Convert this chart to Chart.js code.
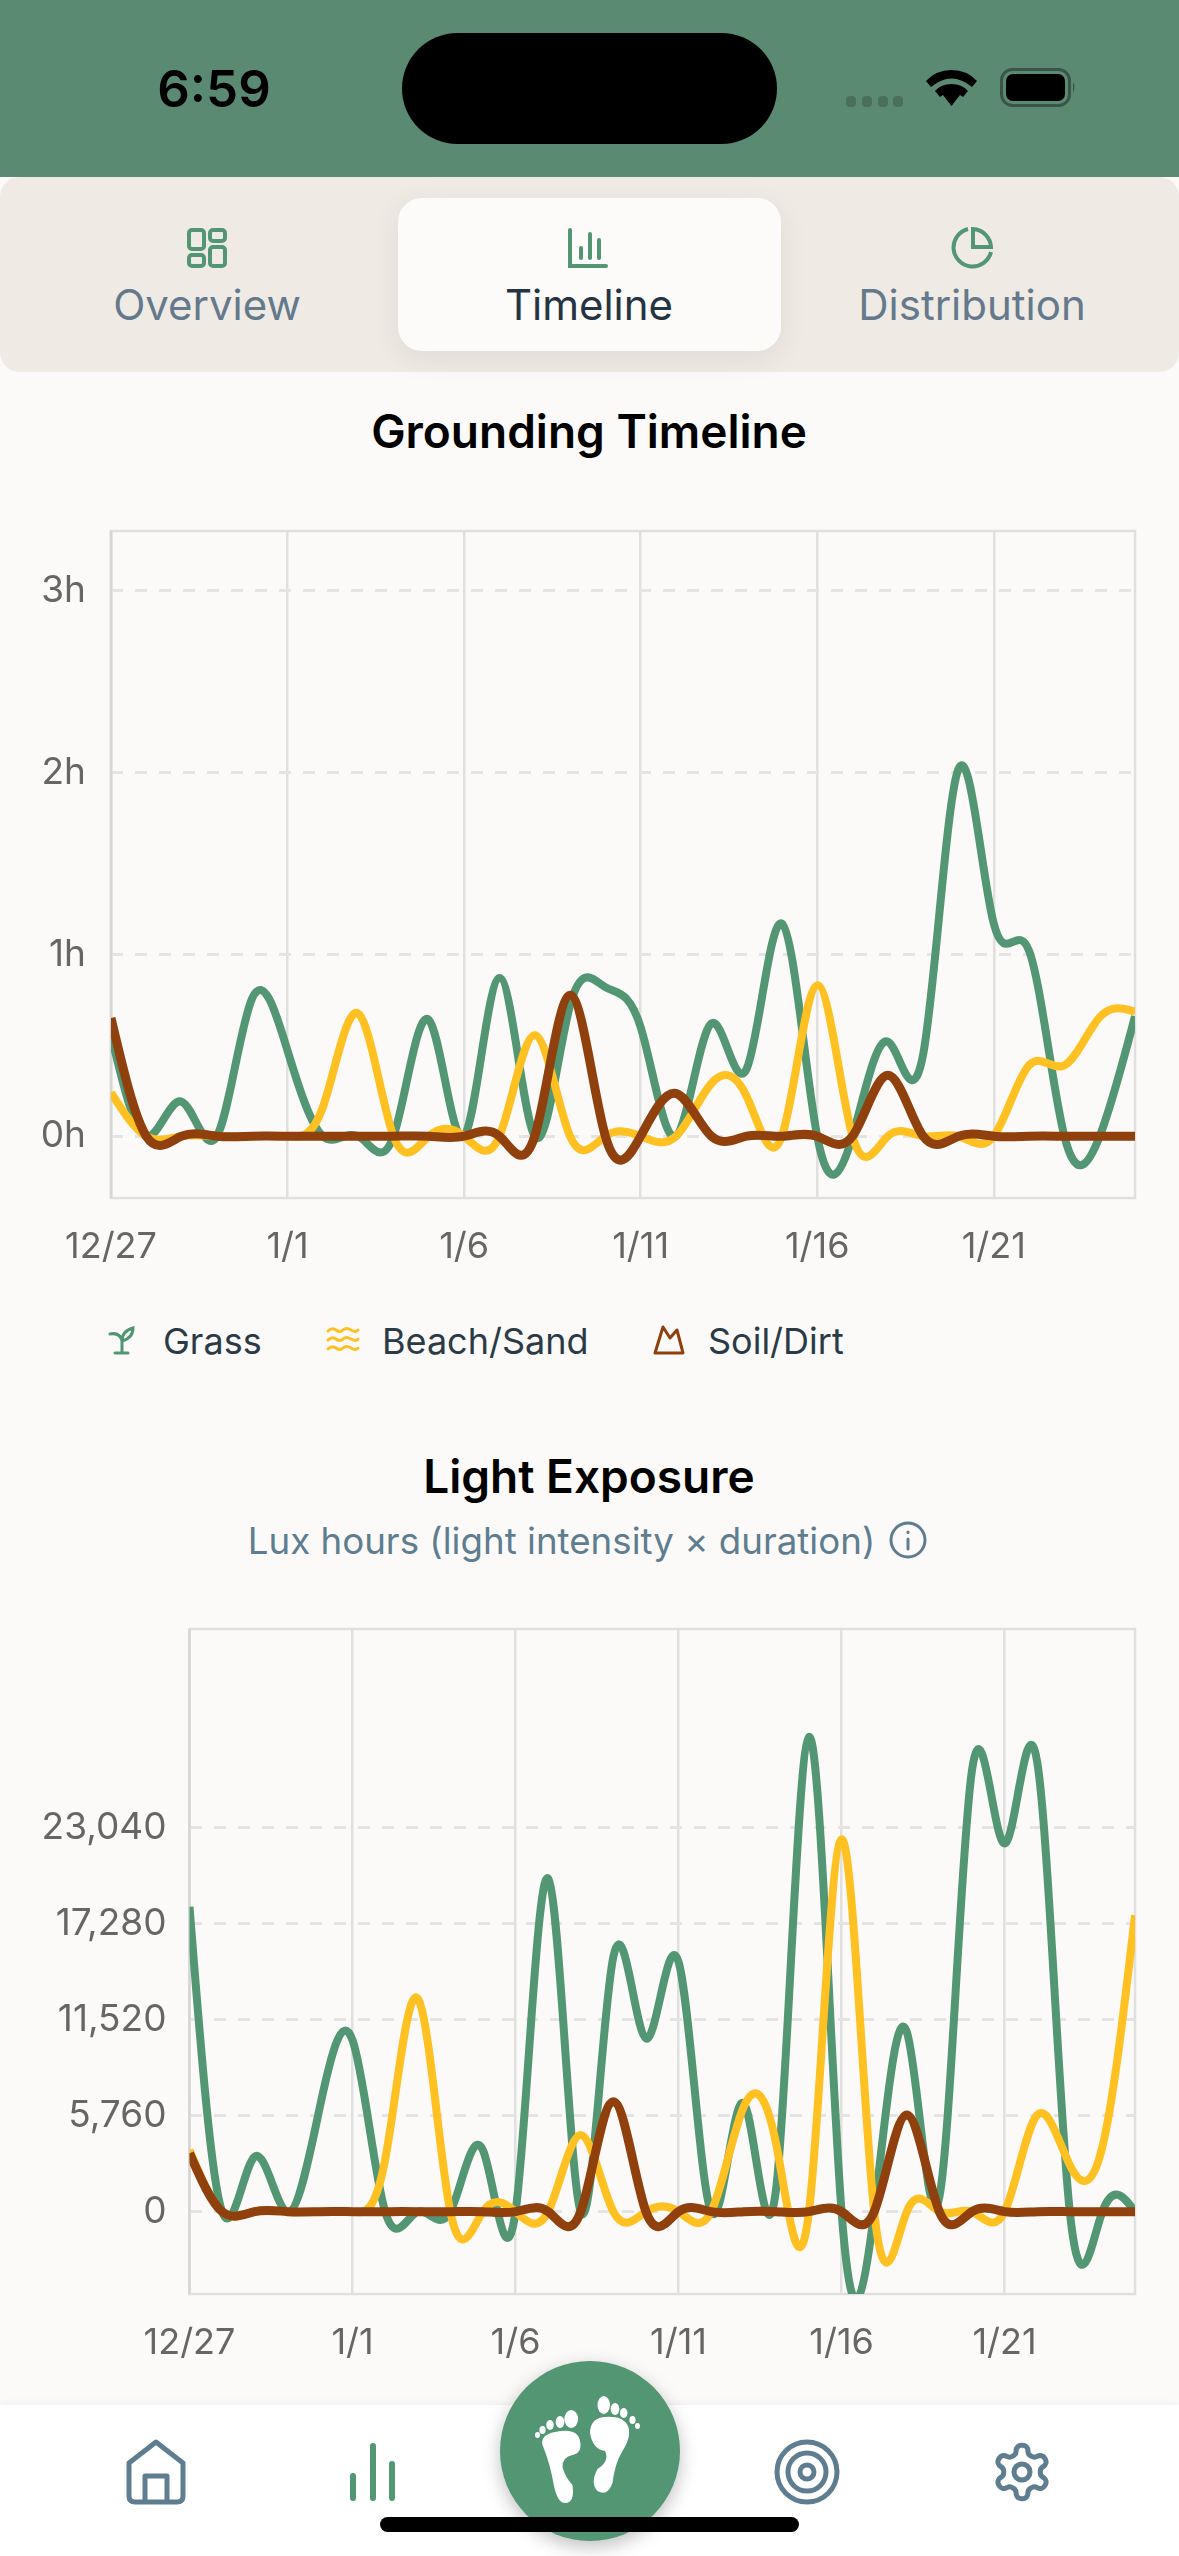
<!DOCTYPE html>
<html>
<head>
<meta charset="utf-8">
<title>Grounding Timeline</title>
<script src="https://cdn.jsdelivr.net/npm/chart.js@4/dist/chart.umd.js"></script>
<style>
  html,body{margin:0;padding:0;background:#fbfaf8;}
  body{position:relative;width:1179px;height:2556px;overflow:hidden;font-family:Inter,sans-serif;}
  .abs{position:absolute;}
  .ctr{position:absolute;transform:translate(-50%,-50%);white-space:nowrap;}
  canvas{position:absolute;left:0;}
  #statusbar{left:0;top:0;width:1179px;height:177px;background:#5b8a72;}
  #island{left:402px;top:33px;width:375px;height:111px;border-radius:56px;background:#000;}
  #tabs{left:0;top:177px;width:1179px;height:195px;background:#efebe4;border-radius:20px;}
  #tab-on{left:398px;top:198px;width:383px;height:153px;border-radius:24px;background:#fcfbf9;box-shadow:0 8px 30px rgba(0,0,0,.07);}
  .tab{font-size:42px;color:#64798c;}
  .title{font-size:46px;font-weight:600;color:#000;}
  .legend{font-size:36px;color:#2b3a47;}
  #nav{left:0;top:2405px;width:1179px;height:151px;background:#fff;box-shadow:0 -1px 8px rgba(0,0,0,.05);}
  #fab{left:500px;top:2361px;width:180px;height:180px;border-radius:50%;background:#529673;box-shadow:0 6px 18px rgba(0,0,0,.25);}
  #homebar{left:380px;top:2517px;width:419px;height:15px;border-radius:8px;background:#000;}
  svg{position:absolute;overflow:visible;}
</style>
</head>
<body>
<div class="abs" id="statusbar"></div>
<div class="abs" id="island"></div>
<div class="ctr" style="left:214px;top:88px;font-size:51px;font-weight:600;color:#000;">6:59</div>
<svg style="left:846px;top:96px" width="57" height="12"><g fill="#4a6f5b"><rect x="0" width="10" height="11" rx="4"/><rect x="16" width="10" height="11" rx="4"/><rect x="32" width="10" height="11" rx="4"/><rect x="47" width="10" height="11" rx="4"/></g></svg>
<svg style="left:926px;top:68px" width="51" height="38" viewBox="0 0 51 38"><path d="M25.5 38 L17 27 Q25.5 21 34 27Z M25.500 16 Q36 16 42 23 L37 29 Q25.500 20 14 29 L9 23 Q15 16 25.500 16Z M25.500 2 Q41 2 51 13 L46 19 Q25.500 2 5 19 L0 13 Q10 2 25.500 2Z" fill="#000"/></svg>
<svg style="left:1000px;top:68px" width="76" height="40"><rect x="1.500" y="1.500" width="68" height="36" rx="11" fill="none" stroke="#3c5447" stroke-width="3"/><rect x="6" y="6" width="59" height="27" rx="7" fill="#000"/><path d="M73 14 Q76 19 73 25Z" fill="#3c5447"/></svg>

<div class="abs" id="tabs"></div>
<div class="abs" id="tab-on"></div>
<svg style="left:187px;top:228px" width="40" height="40" fill="none" stroke="#529673" stroke-width="4"><rect x="2" y="2" width="15" height="19" rx="3"/><rect x="23" y="2" width="15" height="11" rx="3"/><rect x="23" y="19" width="15" height="19" rx="3"/><rect x="2" y="27" width="15" height="11" rx="3"/></svg>
<svg style="left:568px;top:228px" width="40" height="40" fill="none" stroke="#529673" stroke-width="4" stroke-linecap="round"><path d="M2 2V38H38M13 30V20M22 30V6M31 30V12"/></svg>
<svg style="left:950px;top:226px" width="44" height="44" fill="none" stroke="#529673" stroke-width="4"><path d="M18 3A19 19 0 1 0 41 26"/><path d="M23 3A19 19 0 0 1 41 21H23Z"/></svg>
<div class="ctr tab" style="left:207px;top:304px">Overview</div>
<div class="ctr tab" style="left:589px;top:304px;color:#243442;">Timeline</div>
<div class="ctr tab" style="left:972px;top:304px">Distribution</div>
<div class="ctr title" style="left:589px;top:431px">Grounding Timeline</div>

<canvas id="groundingChart" style="top:500px"></canvas>

<svg style="left:108px;top:1326px" width="28" height="29" fill="none" stroke="#529673" stroke-width="3" stroke-linecap="round"><path d="M14 27V14M2 8Q12 6 14 15Q14 5 25 2Q25 12 14 15M7 27H20"/></svg>
<div class="abs legend" style="left:163px;top:1319px">Grass</div>
<svg style="left:327px;top:1327px" width="32" height="26" fill="none" stroke="#ffc022" stroke-width="3" stroke-linecap="round"><path d="M1 4Q5 0 9 3T16 3T24 3T31 3M1 13Q5 9 9 12T16 12T24 12T31 12M1 22Q5 18 9 21T16 21T24 21T31 21"/></svg>
<div class="abs legend" style="left:382px;top:1319px">Beach/Sand</div>
<svg style="left:653px;top:1324px" width="32" height="31" fill="none" stroke="#8f400d" stroke-width="3" stroke-linejoin="round"><path d="M2 29L10 3L17 14L24 6L30 29Z"/></svg>
<div class="abs legend" style="left:708px;top:1319px">Soil/Dirt</div>

<div class="ctr title" style="left:589px;top:1476px">Light Exposure</div>
<div class="ctr" style="left:561.500px;top:1540px;font-size:36.700px;color:#5f7d90">Lux hours (light intensity × duration)</div>
<svg style="left:889px;top:1521px" width="38" height="38" fill="none" stroke="#5f7d90" stroke-width="3" stroke-linecap="round"><circle cx="19" cy="19" r="17"/><path d="M19 18V28M19 11V11.500"/></svg>

<canvas id="lightChart" style="top:1600px"></canvas>

<div class="abs" id="nav"></div>
<svg style="left:126px;top:2439px" width="60" height="66" fill="none" stroke="#5f7d90" stroke-width="5" stroke-linejoin="round"><path d="M3 24L30 3L57 24V57Q57 63 51 63H9Q3 63 3 57Z"/><path d="M19 63V37H41V63"/></svg>
<svg style="left:345px;top:2443px" width="56" height="58" fill="none" stroke="#529673" stroke-width="6" stroke-linecap="round"><path d="M8 55V33M28 55V3M47 55V21"/></svg>
<div class="abs" id="fab"></div>
<svg style="left:540px;top:2395px;transform:scaleX(1.25)" width="100" height="110" fill="#fff"><path d="M22 37Q40 32 42 46Q44 58 36 60Q28 62 28 72Q30 82 36 90Q38 108 30 108Q24 108 21 90Q18 68 12 50Q10 40 22 37Z"/><ellipse cx="35" cy="24" rx="5.500" ry="9"/><ellipse cx="26" cy="27" rx="3.500" ry="6"/><ellipse cx="18" cy="30" rx="3" ry="5"/><ellipse cx="12" cy="35" rx="2.500" ry="4"/><ellipse cx="8" cy="40" rx="2" ry="3"/><path d="M68 22Q50 20 50 38Q52 54 62 56Q66 66 56 74Q50 88 56 96Q64 102 68 88Q70 68 76 56Q84 40 80 30Q76 22 68 22Z"/><ellipse cx="61" cy="10" rx="5" ry="9"/><ellipse cx="70" cy="14" rx="3.500" ry="6"/><ellipse cx="77" cy="18" rx="3" ry="5"/><ellipse cx="84" cy="25" rx="2.500" ry="4"/><ellipse cx="88" cy="31" rx="2" ry="3"/></svg>
<svg style="left:773px;top:2439px" width="68" height="66" fill="none" stroke="#5f7d90"><circle cx="34" cy="33" r="30" stroke-width="5"/><circle cx="34" cy="33" r="19" stroke-width="5"/><circle cx="34" cy="33" r="7" stroke-width="5"/></svg>
<svg style="left:990px;top:2439px" width="64" height="66" viewBox="0 0 24 24" fill="none" stroke="#5f7d90" stroke-width="1.900" stroke-linejoin="round"><path d="M12.220 2h-.44a2 2 0 0 0-2 2v.18a2 2 0 0 1-1 1.730l-.43.250a2 2 0 0 1-2 0l-.150-.080a2 2 0 0 0-2.730.730l-.220.380a2 2 0 0 0 .730 2.730l.150.100a2 2 0 0 1 1 1.720v.510a2 2 0 0 1-1 1.740l-.150.090a2 2 0 0 0-.730 2.730l.220.380a2 2 0 0 0 2.730.730l.150-.080a2 2 0 0 1 2 0l.430.250a2 2 0 0 1 1 1.730V20a2 2 0 0 0 2 2h.44a2 2 0 0 0 2-2v-.18a2 2 0 0 1 1-1.730l.430-.250a2 2 0 0 1 2 0l.150.080a2 2 0 0 0 2.730-.730l.220-.390a2 2 0 0 0-.730-2.730l-.150-.080a2 2 0 0 1-1-1.740v-.500a2 2 0 0 1 1-1.740l.150-.090a2 2 0 0 0 .730-2.730l-.220-.380a2 2 0 0 0-2.730-.730l-.150.080a2 2 0 0 1-2 0l-.430-.250a2 2 0 0 1-1-1.730V4a2 2 0 0 0-2-2z"/><circle cx="12" cy="12" r="3"/></svg>
<div class="abs" id="homebar"></div>

<script>
// 30 days, 12/27 to 1/25
const dates = ['12/27','12/28','12/29','12/30','12/31','1/1','1/2','1/3','1/4','1/5','1/6','1/7','1/8','1/9','1/10','1/11','1/12','1/13','1/14','1/15','1/16','1/17','1/18','1/19','1/20','1/21','1/22','1/23','1/24','1/25'];
const dateTicks = ['12/27','1/1','1/6','1/11','1/16','1/21'];

// grounding hours per day
const groundGrass = [0.56,0,0.19,0,0.76,0.47,0,0,0,0.64,0,0.87,0,0.72,0.82,0.60,0,0.62,0.37,1.17,0,0,0.52,0.45,2.02,1.17,1.02,0,0,0.66];
const groundBeach = [0.24,0,0,0,0,0,0.16,0.675,0,0,0,0,0.555,0,0,0,0,0.29,0.22,0,0.83,0,0,0,0,0,0.39,0.39,0.655,0.685];
const groundSoil  = [0.65,0,0,0,0,0,0,0,0,0,0,0,0,0.775,0,0,0.235,0,0,0,0,0,0.335,0,0,0,0,0,0,0];
const groundTicks = [0,1,2,3];

// lux hours per day
const lightGrass = [18300,0,3300,0,6300,10300,0,0,0,3700,0,20000,0,15300,10400,15000,0,6500,1500,28500,0,0,10800,900,26500,22100,27000,0,0,0];
const lightBeach = [3700,0,0,0,0,0,3100,12800,0,0,0,0,4600,0,0,0,0,6300,4000,0,22350,0,0,0,0,0,5800,2800,3900,17800];
const lightSoil  = [3500,0,0,0,0,0,0,0,0,0,0,0,0,6600,0,0,0,0,0,0,0,0,5800,0,0,0,0,0,0,0];
const lightTicks = [0,5760,11520,17280,23040];

const GREEN = '#529673', YELLOW = '#ffc022', BROWN = '#8f400d';

// natural cubic spline through v, returns the two bezier handles of each segment
function naturalHandles(v){
  const n = v.length-1, a = new Array(n), b = new Array(n), r = new Array(n);
  a[0]=0; b[0]=2; r[0]=v[0]+2*v[1];
  for(let i=1;i<n-1;i++){ a[i]=1; b[i]=4; r[i]=4*v[i]+2*v[i+1]; }
  a[n-1]=2; b[n-1]=7; r[n-1]=8*v[n-1]+v[n];
  for(let i=1;i<n;i++){ const m=a[i]/b[i-1]; b[i]-=m; r[i]-=m*r[i-1]; }
  a[n-1]=r[n-1]/b[n-1];
  for(let i=n-2;i>=0;i--) a[i]=(r[i]-a[i+1])/b[i];
  b[n-1]=(v[n]+a[n-1])/2;
  for(let i=0;i<n-1;i++) b[i]=2*v[i+1]-a[i+1];
  return [a,b];
}

// the ringing after each spike in the picture is what a natural spline does, chart.js has
// no such mode so replace the control points of the points the scales have placed
const splinePlugin = {
  id:'spline',
  beforeDatasetsDraw(chart){
    chart.getSortedVisibleDatasetMetas().forEach(meta=>{
      meta.dataset.updateControlPoints(chart.chartArea);
      const pts = meta.data;
      const [ax,bx] = naturalHandles(pts.map(p=>p.x));
      const [ay,by] = naturalHandles(pts.map(p=>p.y));
      for(let i=0;i<pts.length-1;i++){
        pts[i].cp2x = ax[i]; pts[i].cp2y = ay[i];
        pts[i+1].cp1x = bx[i]; pts[i+1].cp1y = by[i];
      }
    });
  }
};

// chart area frame, the picture has a full box around the plot
const framePlugin = {
  id:'frame',
  beforeDatasetsDraw(chart){
    const a = chart.chartArea, c = chart.ctx;
    c.save();
    c.strokeStyle = '#e0e0de';
    c.lineWidth = 2.5;
    c.strokeRect(a.left, a.top, a.right-a.left, a.bottom-a.top);
    c.strokeStyle = '#d6d6d4';
    c.beginPath(); c.moveTo(a.left,a.top); c.lineTo(a.left,a.bottom); c.stroke();
    c.restore();
  }
};

function line(label, data, color, width, order){
  return { label, data, borderColor:color, borderWidth:width, tension:0.4, pointRadius:0, fill:false, order, clip:0, borderCapStyle:'butt', borderJoinStyle:'round' };
}

function makeChart(id, o){
  const el = document.getElementById(id);
  el.width = 1179; el.height = o.height;
  el.style.width = '1179px'; el.style.height = o.height + 'px';
  return new Chart(el.getContext('2d'), {
    type:'line',
    data:{ labels:dates, datasets:o.datasets },
    options:{
      responsive:false, animation:false, devicePixelRatio:1,
      layout:{ padding:{ left:0, right:44, top:o.top, bottom:0 } },
      plugins:{ legend:{display:false}, tooltip:{enabled:false} },
      scales:{
        x:{
          grid:{ color:'#e0e0de', lineWidth:2.5, drawTicks:false },
          border:{ display:false },
          afterBuildTicks(s){ s.ticks = s.ticks.filter(t=>dateTicks.includes(dates[t.value])); },
          afterFit(s){ s.height = o.axisH; s.paddingLeft = 0; s.paddingRight = 0; },
          ticks:{ autoSkip:false, maxRotation:0, padding:28, color:'#666666', font:{family:'Inter', size:36} }
        },
        y:{
          min:o.min, max:o.max,
          grid:{ color:'#e5e4e2', lineWidth:3, drawTicks:false },
          border:{ display:false, dash:[12,12] },
          afterBuildTicks(s){ s.ticks = o.ticks.map(v=>({value:v})); },
          afterFit(s){ s.width = o.left; s.paddingTop = 0; s.paddingBottom = 0; },
          ticks:{ padding:o.tickPad, color:'#666666', font:{family:'Inter', size:37}, callback:o.fmt }
        }
      }
    },
    plugins:[framePlugin, splinePlugin]
  });
}

makeChart('groundingChart', {
  height:780, top:31, axisH:82, left:111, tickPad:25, min:-0.34, max:3.33, ticks:groundTicks,
  fmt:v=>v+'h',
  datasets:[ line('Grass',groundGrass,GREEN,8,3), line('Beach/Sand',groundBeach,YELLOW,8,2), line('Soil/Dirt',groundSoil,BROWN,9,1) ]
});

makeChart('lightChart', {
  height:780, top:29, axisH:86, left:189.5, tickPad:23, min:-4944, max:34980, ticks:lightTicks,
  fmt:v=>v.toLocaleString('en-US'),
  datasets:[ line('Grass',lightGrass,GREEN,8,3), line('Beach/Sand',lightBeach,YELLOW,8,2), line('Soil/Dirt',lightSoil,BROWN,9,1) ]
});
</script>
</body>
</html>
